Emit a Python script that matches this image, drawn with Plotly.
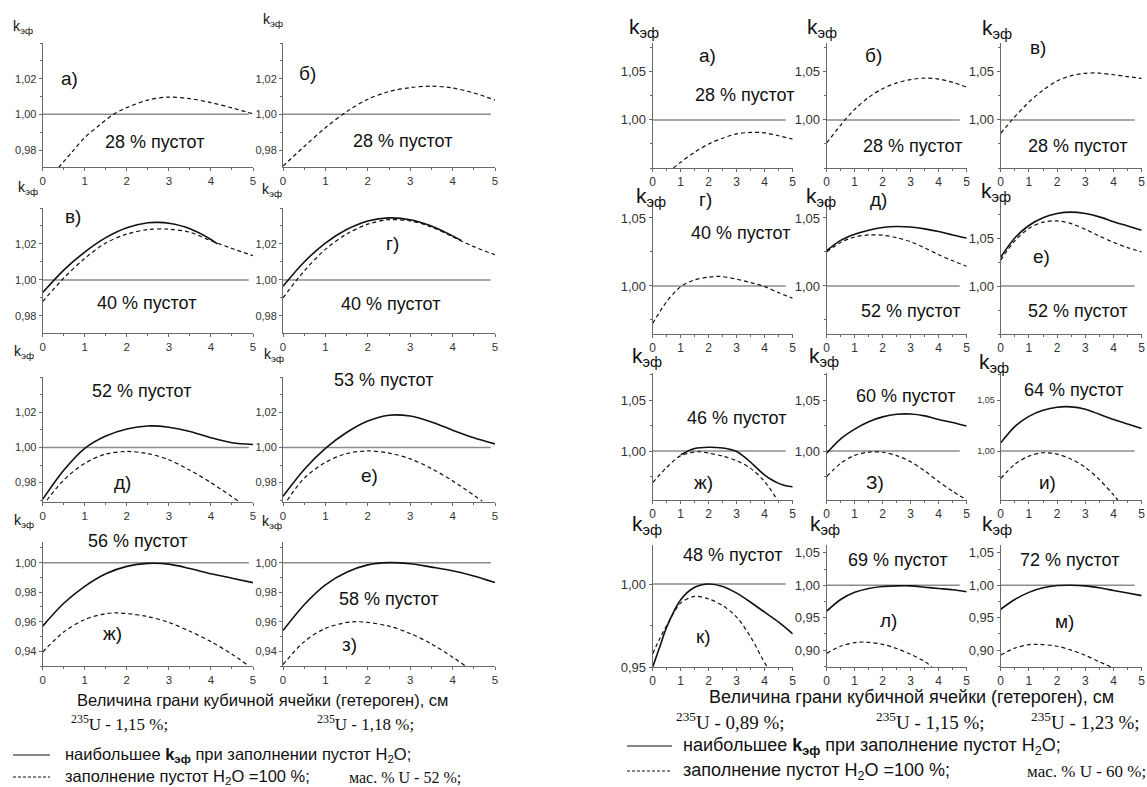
import plotly.graph_objects as go

W, H = 1147, 787

# common x grid, cm
xs = [0, 0.5, 1, 1.5, 2, 2.5, 3, 3.5, 4, 4.5, 5]

# ---------------- left sheet: 235U 1,15 % / 1,18 %, mass % U 52 % ----------------
la_dash_x = [0.37, 0.7, 1.0, 1.35, 1.68, 2.0, 2.5, 3.0, 3.5, 4.0, 4.5, 5.0]
la_dash_y = [0.970, 0.979, 0.987, 0.994, 1.000, 1.0038, 1.0080, 1.0097, 1.0088, 1.0066, 1.0036, 1.0003]

lb_dash_x = [0, 0.5, 1, 1.5, 2, 2.5, 3, 3.5, 4, 4.5, 5]
lb_dash_y = [0.971, 0.982, 0.9925, 1.0015, 1.0085, 1.0128, 1.015, 1.0158, 1.0148, 1.012, 1.008]

lc_sol_x = [0, 0.5, 1, 1.5, 2, 2.5, 2.75, 3, 3.5, 4, 4.15]
lc_sol_y = [0.993, 1.0055, 1.0155, 1.0235, 1.029, 1.0318, 1.032, 1.0315, 1.0285, 1.0225, 1.020]
lc_dash_y = [0.988, 1.001, 1.012, 1.0205, 1.0255, 1.028, 1.0282, 1.0265, 1.0218, 1.0175, 1.0135]

ld_sol_x = [0, 0.5, 1, 1.5, 2, 2.5, 3, 3.5, 4, 4.2]
ld_sol_y = [0.9965, 1.010, 1.0205, 1.028, 1.0328, 1.0345, 1.0335, 1.030, 1.0245, 1.022]
ld_dash_y = [0.990, 1.005, 1.017, 1.0255, 1.031, 1.0335, 1.0328, 1.0295, 1.024, 1.0185, 1.014]

le_sol_y = [0.9705, 0.987, 0.9995, 1.0065, 1.0105, 1.0122, 1.0115, 1.009, 1.0055, 1.0027, 1.0017]
le_dash_x = [0.1, 0.5, 1, 1.5, 2, 2.5, 3, 3.5, 4, 4.65]
le_dash_y = [0.970, 0.9815, 0.991, 0.9962, 0.9977, 0.9965, 0.993, 0.987, 0.980, 0.9695]

lf_sol_y = [0.9722, 0.9875, 0.9995, 1.0085, 1.015, 1.0183, 1.0178, 1.0145, 1.0098, 1.0055, 1.002]
lf_dash_x = [0.1, 0.5, 1, 1.5, 2, 2.5, 3, 3.5, 4, 4.7]
lf_dash_y = [0.970, 0.9825, 0.9915, 0.9965, 0.998, 0.9968, 0.9935, 0.988, 0.981, 0.9695]

lg_sol_y = [0.957, 0.9725, 0.984, 0.9925, 0.9975, 0.9995, 0.999, 0.996, 0.9925, 0.9895, 0.9865]
lg_dash_x = [0, 0.5, 1, 1.5, 1.75, 2, 2.5, 3, 3.5, 4, 4.5, 4.85]
lg_dash_y = [0.9395, 0.953, 0.9615, 0.9655, 0.966, 0.9655, 0.9635, 0.9595, 0.9535, 0.9465, 0.938, 0.931]

lh_sol_y = [0.954, 0.9715, 0.985, 0.9935, 0.9985, 1.000, 0.9993, 0.997, 0.9945, 0.991, 0.9865]
lh_dash_x = [0, 0.5, 1, 1.5, 1.7, 2, 2.5, 3, 3.5, 4, 4.3]
lh_dash_y = [0.931, 0.9465, 0.9555, 0.9595, 0.960, 0.9595, 0.957, 0.952, 0.945, 0.936, 0.930]

# ---------------- right sheet: 235U 0,89 / 1,15 / 1,23 %, mass % U 60 % ----------------
ra_dash_x = [0.74, 1, 1.5, 2, 2.5, 3, 3.5, 4, 4.5, 5]
ra_dash_y = [0.950, 0.956, 0.9665, 0.975, 0.981, 0.9855, 0.987, 0.9865, 0.9835, 0.980]

rb_dash_x = [0, 0.65, 1, 1.5, 2, 2.5, 3, 3.5, 4, 4.5, 5]
rb_dash_y = [0.976, 1.000, 1.011, 1.0235, 1.0325, 1.0385, 1.042, 1.0435, 1.0425, 1.039, 1.034]

rc_dash_x = [0, 0.4, 1, 1.5, 2, 2.5, 3, 3.5, 4, 4.5, 5]
rc_dash_y = [0.986, 1.000, 1.0185, 1.031, 1.0405, 1.046, 1.0485, 1.0487, 1.047, 1.045, 1.0432]

rd_dash_x = [0, 0.5, 1, 1.5, 2, 2.4, 3, 3.5, 4, 4.5, 5]
rd_dash_y = [0.9725, 0.9885, 0.9995, 1.0045, 1.0065, 1.007, 1.005, 1.0025, 0.9995, 0.995, 0.991]

re_sol_y = [1.026, 1.0335, 1.038, 1.041, 1.043, 1.0437, 1.0433, 1.042, 1.040, 1.0375, 1.0352]
re_dash_y = [1.025, 1.032, 1.036, 1.0375, 1.0373, 1.0355, 1.0325, 1.028, 1.023, 1.0185, 1.0145]

rf_sol_y = [1.030, 1.050, 1.063, 1.071, 1.0755, 1.077, 1.0755, 1.072, 1.067, 1.0625, 1.058]
rf_dash_y = [1.027, 1.047, 1.060, 1.0665, 1.0678, 1.065, 1.059, 1.052, 1.0455, 1.040, 1.0355]

rg_sol_x = [1.0, 1.5, 2, 2.5, 2.75, 3, 3.25, 3.5, 3.75, 4, 4.25, 4.5, 4.75, 5]
rg_sol_y = [0.9965, 1.0025, 1.0037, 1.003, 1.0017, 0.9995, 0.9947, 0.989, 0.9825, 0.9765, 0.9718, 0.9683, 0.966, 0.965]
rg_dash_x = [0, 0.5, 1, 1.5, 1.7, 2, 2.5, 3, 3.5, 4, 4.45]
rg_dash_y = [0.969, 0.984, 0.9955, 0.999, 0.9993, 0.998, 0.995, 0.9905, 0.983, 0.970, 0.952]

rh_sol_y = [0.998, 1.012, 1.0215, 1.0288, 1.0335, 1.036, 1.0363, 1.0345, 1.031, 1.028, 1.0245]
rh_dash_y = [0.975, 0.988, 0.9958, 0.999, 0.9988, 0.9955, 0.9895, 0.9805, 0.970, 0.9605, 0.952]

ri_sol_y = [1.008, 1.024, 1.034, 1.040, 1.043, 1.0433, 1.041, 1.036, 1.031, 1.0265, 1.022]
ri_dash_x = [0, 0.5, 1, 1.5, 2, 2.5, 3, 3.5, 4, 4.15]
ri_dash_y = [0.973, 0.987, 0.995, 0.9983, 0.997, 0.992, 0.984, 0.972, 0.957, 0.952]

rk_sol_x = [0, 0.25, 0.5, 1, 1.5, 2, 2.5, 3, 3.5, 4, 4.5, 5]
rk_sol_y = [0.950, 0.962, 0.974, 0.9905, 0.998, 1.000, 0.9985, 0.9945, 0.989, 0.983, 0.977, 0.970]
rk_dash_x = [0, 0.25, 0.5, 1, 1.5, 2, 2.5, 3, 3.5, 4, 4.1]
rk_dash_y = [0.958, 0.967, 0.975, 0.9885, 0.9925, 0.991, 0.987, 0.980, 0.968, 0.9525, 0.950]

rl_sol_y = [0.960, 0.978, 0.989, 0.995, 0.998, 0.999, 0.999, 0.997, 0.995, 0.993, 0.990]
rl_dash_x = [0, 0.5, 1, 1.3, 1.5, 2, 2.5, 3, 3.5, 3.75]
rl_dash_y = [0.895, 0.906, 0.9115, 0.9125, 0.912, 0.909, 0.9025, 0.8935, 0.8825, 0.8745]

rm_sol_y = [0.963, 0.978, 0.989, 0.996, 0.9995, 1.000, 0.999, 0.996, 0.992, 0.988, 0.984]
rm_dash_x = [0, 0.5, 1, 1.25, 1.5, 2, 2.5, 3, 3.5, 3.9]
rm_dash_y = [0.8925, 0.903, 0.9085, 0.909, 0.9085, 0.906, 0.900, 0.892, 0.882, 0.8745]

SANS = 'Liberation Sans, Arial, sans-serif'
SERIF = 'Liberation Serif, Times New Roman, serif'

L_COLS = [(42.7, 253), (283, 495)]
L_ROWS = [(43, 167), (208, 333), (377, 502), (542, 666)]
R_COLS = [(652.7, 792.7), (826.7, 966.7), (1000.7, 1141.7)]
R_ROWS = [(43, 168), (200, 334), (373, 500), (545, 667)]

L_T = [0.98, 1.00, 1.02]
L_T4 = [0.94, 0.96, 0.98, 1.00]
R_T = [1.00, 1.05]

# (col px, row px, y range, y ticks, minor step, tick size, curves, k label pos, k size)
panels = [
    (L_COLS[0], L_ROWS[0], (0.9705, 1.04), L_T, 0.01, 11, [(la_dash_x, la_dash_y, 'd')], (11, 27), 14),
    (L_COLS[1], L_ROWS[0], (0.9705, 1.04), L_T, 0.01, 11, [(lb_dash_x, lb_dash_y, 'd')], (261, 20), 14),
    (L_COLS[0], L_ROWS[1], (0.9705, 1.04), L_T, 0.01, 11,
     [(lc_sol_x, lc_sol_y, 's'), (xs, lc_dash_y, 'd')], (16, 188), 14),
    (L_COLS[1], L_ROWS[1], (0.9705, 1.04), L_T, 0.01, 11,
     [(ld_sol_x, ld_sol_y, 's'), (xs, ld_dash_y, 'd')], (260, 190), 14),
    (L_COLS[0], L_ROWS[2], (0.969, 1.04), L_T, 0.01, 11,
     [(xs, le_sol_y, 's'), (le_dash_x, le_dash_y, 'd')], (12, 352), 14),
    (L_COLS[1], L_ROWS[2], (0.969, 1.04), L_T, 0.01, 11,
     [(xs, lf_sol_y, 's'), (lf_dash_x, lf_dash_y, 'd')], (262, 355), 14),
    (L_COLS[0], L_ROWS[3], (0.93, 1.014), L_T4, 0.01, 11,
     [(xs, lg_sol_y, 's'), (lg_dash_x, lg_dash_y, 'd')], (12, 521), 14),
    (L_COLS[1], L_ROWS[3], (0.93, 1.014), L_T4, 0.01, 11,
     [(xs, lh_sol_y, 's'), (lh_dash_x, lh_dash_y, 'd')], (260, 522), 14),

    (R_COLS[0], R_ROWS[0], (0.95, 1.08), R_T, 0.025, 13, [(ra_dash_x, ra_dash_y, 'd')], (627, 28), 21),
    (R_COLS[1], R_ROWS[0], (0.95, 1.08), R_T, 0.025, 13, [(rb_dash_x, rb_dash_y, 'd')], (805, 28), 21),
    (R_COLS[2], R_ROWS[0], (0.95, 1.08), R_T, 0.025, 13, [(rc_dash_x, rc_dash_y, 'd')], (980, 29), 21),
    (R_COLS[0], R_ROWS[1], (0.9647, 1.0632), R_T, 0.025, 13, [(rd_dash_x, rd_dash_y, 'd')], (634, 197), 21),
    (R_COLS[1], R_ROWS[1], (0.9647, 1.0632), R_T, 0.025, 13,
     [(xs, re_sol_y, 's'), (xs, re_dash_y, 'd')], (804, 197), 21),
    (R_COLS[2], R_ROWS[1], (0.95, 1.0896), R_T, 0.025, 13,
     [(xs, rf_sol_y, 's'), (xs, rf_dash_y, 'd')], (979, 192), 21),
    (R_COLS[0], R_ROWS[2], (0.952, 1.0765), R_T, 0.025, 13,
     [(rg_sol_x, rg_sol_y, 's'), (rg_dash_x, rg_dash_y, 'd')], (630, 357), 21),
    (R_COLS[1], R_ROWS[2], (0.952, 1.0765), R_T, 0.025, 13,
     [(xs, rh_sol_y, 's'), (xs, rh_dash_y, 'd')], (807, 357), 21),
    (R_COLS[2], R_ROWS[2], (0.952, 1.0765), R_T, 0.025, 9,
     [(xs, ri_sol_y, 's'), (ri_dash_x, ri_dash_y, 'd')], (977, 363), 21),
    (R_COLS[0], R_ROWS[3], (0.95, 1.0235), [0.95, 1.00], 0.025, 13,
     [(rk_sol_x, rk_sol_y, 's'), (rk_dash_x, rk_dash_y, 'd')], (630, 525), 21),
    (R_COLS[1], R_ROWS[3], (0.874, 1.062), [0.90, 0.95, 1.00, 1.05], 0.025, 13,
     [(xs, rl_sol_y, 's'), (rl_dash_x, rl_dash_y, 'd')], (808, 525), 21),
    (R_COLS[2], R_ROWS[3], (0.874, 1.062), [0.90, 0.95, 1.00, 1.05], 0.025, 13,
     [(xs, rm_sol_y, 's'), (rm_dash_x, rm_dash_y, 'd')], (980, 525), 21),
]

# panel captions: (text, x px, y px, size)
captions = [
    ('а)', 69, 78, 19), ('28 % пустот', 154, 142, 18),
    ('б)', 307, 74, 19), ('28 % пустот', 402, 141, 18),
    ('в)', 73, 217, 19), ('40 % пустот', 146, 303, 18),
    ('г)', 392, 243, 19), ('40 % пустот', 390, 304, 18),
    ('52 % пустот', 141, 391, 18), ('д)', 122, 482, 19),
    ('53 % пустот', 383, 380, 18), ('е)', 369, 475, 19),
    ('56 % пустот', 137, 541, 18), ('ж)', 112, 633, 19),
    ('58 % пустот', 388, 599, 18), ('з)', 349, 644, 19),
    ('а)', 707, 56, 19), ('28 % пустот', 744, 95, 18),
    ('б)', 873, 56, 19), ('28 % пустот', 912, 146, 18),
    ('в)', 1038, 47, 19), ('28 % пустот', 1077, 146, 18),
    ('г)', 705, 200, 19), ('40 % пустот', 740, 233, 18),
    ('д)', 878, 200, 19), ('52 % пустот', 910, 311, 18),
    ('е)', 1041, 256, 19), ('52 % пустот', 1077, 311, 18),
    ('46 % пустот', 736, 418, 18), ('ж)', 703, 482, 19),
    ('60 % пустот', 905, 396, 18), ('З)', 875, 482, 19),
    ('64 % пустот', 1073, 390, 18), ('и)', 1047, 482, 19),
    ('48 % пустот', 732, 555, 18), ('к)', 703, 636, 19),
    ('69 % пустот', 898, 560, 18), ('л)', 888, 620, 19),
    ('72 % пустот', 1069, 560, 18), ('м)', 1064, 621, 19),
]

X_TITLE = 'Величина грани кубичной ячейки (гетероген), см'

fig = go.Figure()
layout = dict(width=W, height=H, margin=dict(l=0, r=0, t=0, b=0, autoexpand=False),
              paper_bgcolor='white', plot_bgcolor='white', showlegend=False,
              separators=', ', font=dict(family=SANS, color='#222'))
annotations = []
shapes = []


def px(x):
    return x / W


def py(y):
    return 1 - y / H


for i, (cols, rows, yr, yt, ymin, tsize, curves, kpos, ksize) in enumerate(panels, start=1):
    xn = 'x' if i == 1 else f'x{i}'
    yn = 'y' if i == 1 else f'y{i}'
    layout[f'xaxis{i}'] = dict(
        domain=[px(cols[0]), px(cols[1])], range=[0, 5], anchor=yn,
        showline=True, linecolor='#6a6a6a', linewidth=1, mirror=False,
        ticks='outside', ticklen=3, tickcolor='#6a6a6a', tickvals=[0, 1, 2, 3, 4, 5],
        minor=dict(ticks='outside', ticklen=2, dtick=0.5, tick0=0, tickcolor='#6a6a6a'),
        tickfont=dict(size=12 if i > 8 else 11.5, color='#333'),
        showgrid=False, zeroline=False, fixedrange=True)
    layout[f'yaxis{i}'] = dict(
        domain=[py(rows[1]), py(rows[0])], range=list(yr), anchor=xn,
        showline=True, linecolor='#6a6a6a', linewidth=1,
        ticks='outside', ticklen=3, tickcolor='#6a6a6a', tickvals=yt, tickformat='.2f',
        minor=dict(ticks='outside', ticklen=2, dtick=ymin, tick0=0, tickcolor='#6a6a6a'),
        tickfont=dict(size=tsize, color='#333'),
        showgrid=False, zeroline=False, fixedrange=True)
    # reference level k = 1
    shapes.append(dict(type='line', xref=xn, yref=yn, x0=0, x1=4.9 if i <= 8 else 4.75,
                       y0=1.0, y1=1.0, line=dict(color='#8c8c8c', width=1.5), layer='below'))
    for cx, cy, kind in curves:
        fig.add_trace(go.Scatter(
            x=cx, y=cy, xaxis=xn, yaxis=yn, mode='lines', hoverinfo='skip',
            line=dict(color='#111', width=1.6 if kind == 's' else 1.2,
                      dash='solid' if kind == 's' else '4px,3px', shape='spline', smoothing=0.9)))
    annotations.append(dict(text='k<sub>эф</sub>', x=px(kpos[0]), y=py(kpos[1]), xref='paper',
                            yref='paper', xanchor='left', yanchor='middle', showarrow=False,
                            font=dict(size=ksize, color='#111')))

for text, x, y, size in captions:
    annotations.append(dict(text=text, x=px(x), y=py(y), xref='paper', yref='paper',
                            xanchor='center', yanchor='middle', showarrow=False,
                            font=dict(size=size, color='#111')))

# bottom texts
bottom = [
    (X_TITLE, 262, 700, 16.5, SANS, 'center'),
    ('<sup>235</sup>U - 1,15 %;', 119, 723, 17, SERIF, 'center'),
    ('<sup>235</sup>U - 1,18 %;', 365, 723, 17, SERIF, 'center'),
    ('наибольшее <b>k</b><sub><b>эф</b></sub> при заполнении пустот H<sub>2</sub>O;', 63, 755, 16.5, SANS, 'left'),
    ('заполнение пустот H<sub>2</sub>O =100 %;', 63, 777, 16.5, SANS, 'left'),
    ('мас. % U - 52 %;', 405, 777, 16, SERIF, 'center'),
    (X_TITLE, 911, 697, 18, SANS, 'center'),
    ('<sup>235</sup>U - 0,89 %;', 730, 721, 19, SERIF, 'center'),
    ('<sup>235</sup>U - 1,15 %;', 930, 721, 19, SERIF, 'center'),
    ('<sup>235</sup>U - 1,23 %;', 1085, 721, 19, SERIF, 'center'),
    ('наибольшее <b>k</b><sub><b>эф</b></sub> при заполнение пустот H<sub>2</sub>O;', 681, 746, 18, SANS, 'left'),
    ('заполнение пустот H<sub>2</sub>O =100 %;', 681, 771, 18, SANS, 'left'),
    ('мас. % U - 60 %;', 1086, 771, 17, SERIF, 'center'),
]
for text, x, y, size, fam, anchor in bottom:
    annotations.append(dict(text=text, x=px(x), y=py(y), xref='paper', yref='paper',
                            xanchor=anchor, yanchor='middle', showarrow=False,
                            font=dict(size=size, family=fam, color='#111')))

# legend samples
for x0, x1, y, dash in [(13, 50, 755, 'solid'), (13, 50, 777, '3px,2px'),
                        (627, 672, 746, 'solid'), (627, 672, 771, '3px,2px')]:
    shapes.append(dict(type='line', xref='paper', yref='paper', x0=px(x0), x1=px(x1),
                       y0=py(y), y1=py(y), line=dict(color='#111', width=1.2, dash=dash)))

layout['annotations'] = annotations
layout['shapes'] = shapes
fig.update_layout(**layout)

# the page's default body margin would push the figure 8px off
fig.write_html('out.html', config={'displayModeBar': False},
               post_script="document.body.style.margin='0px';")
